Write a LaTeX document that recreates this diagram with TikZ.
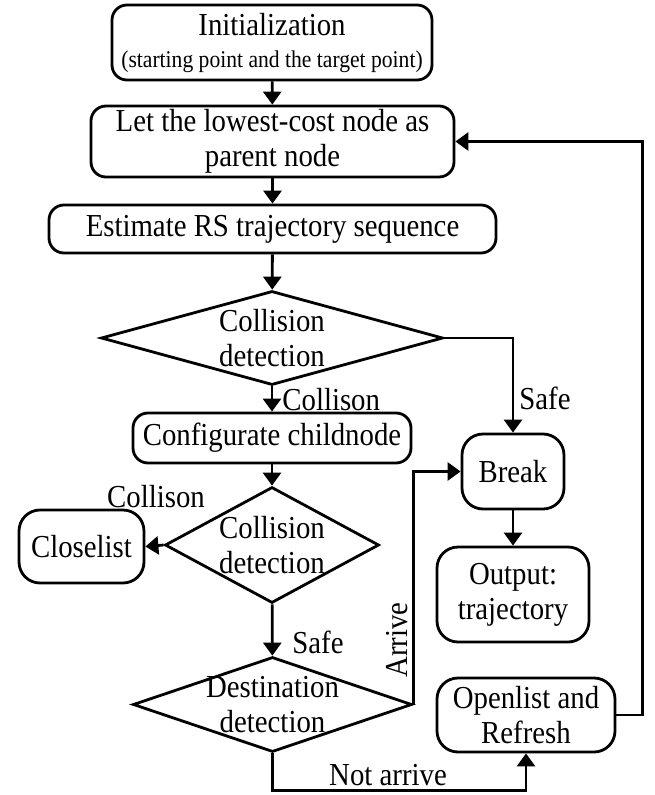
\documentclass[tikz,border=0pt]{standalone}
\usepackage{fontspec}
\setmainfont[FakeStretch=0.9]{Liberation Serif}
\usetikzlibrary{arrows.meta,shapes.geometric}
\begin{document}
\begin{tikzpicture}[x=1pt,y=1pt,line width=2.8pt,
  box/.style={draw, rounded corners=15pt, align=center, inner sep=0pt, font=\fontsize{32}{35}\selectfont},
  rbox/.style={box, rounded corners=21pt},
  dia/.style={draw, diamond, inner sep=0pt},
  txt/.style={align=center, inner sep=0pt, font=\fontsize{32}{35}\selectfont},
  lab/.style={inner sep=0pt, font=\fontsize{32}{35}\selectfont},
  arr/.style={-{Triangle[width=18pt,length=13pt]}}]
\useasboundingbox (0,0) rectangle (654,-795);
% nodes
\node[box, minimum width=320, minimum height=75] (init) at (272,-42.5)
  {Initialization\\[-3pt]{\fontsize{24}{26}\selectfont (starting point and the target point)}};
\node[box, minimum width=363, minimum height=71] (let) at (272.5,-141.5)
  {Let the lowest-cost node as\\parent node};
\node[box, minimum width=447, minimum height=48] (est) at (272.5,-229)
  {Estimate RS trajectory sequence};
\node[dia, minimum width=342, minimum height=94] (d1) at (272,-338) {};
\node[txt] (d1t) at (d1) {Collision\\detection};
\node[box, minimum width=278, minimum height=50] (cfg) at (272,-438)
  {Configurate childnode};
\node[rbox, minimum width=102, minimum height=75] (brk) at (513,-471.5) {Break};
\node[dia, minimum width=214, minimum height=116] (d2) at (272,-545) {};
\node[txt] (d2t) at (d2) {Collision\\detection};
\node[rbox, minimum width=125, minimum height=73] (cls) at (81.5,-546.5) {Closelist};
\node[rbox, minimum width=152, minimum height=95] (out) at (513,-594.5) {Output:\\trajectory};
\node[dia, minimum width=279, minimum height=95] (dst) at (272.5,-704.5) {};
\node[txt] (dstt) at (dst) {Destination\\detection};
\node[rbox, minimum width=178, minimum height=74] (opn) at (526,-715) {Openlist and\\Refresh};
% connectors
\draw[arr] (init) -- (let);
\draw[arr] (let) -- (est);
\draw[arr] (est) -- (d1);
\draw[arr] (d1) -- (cfg);
\draw[arr] (d1.east) -| (brk.north);
\draw[arr] (cfg) -- (d2);
\draw[arr] (d2.west) -- (cls.east);
\draw[arr] (d2) -- (dst);
\draw[arr] (dst.east) |- (brk.west);
\draw[arr] (brk) -- (out);
\draw[arr] (dst.south) -- ++(0,-37) -| (opn.south);
\draw[arr] (opn.east) -- ++(26,0) |- (let.east);
% labels
\node[lab, anchor=west] (l1) at (281,-400) {Collison};
\node[lab, anchor=west] (l2) at (518,-398) {Safe};
\node[lab] (l3) at (156,-497) {Collison};
\node[lab] (l4) at (318,-642) {Safe};
\node[lab, rotate=90] (l5) at (397,-640) {Arrive};
\node[lab] (l6) at (388,-775) {Not arrive};
\end{tikzpicture}
\end{document}
